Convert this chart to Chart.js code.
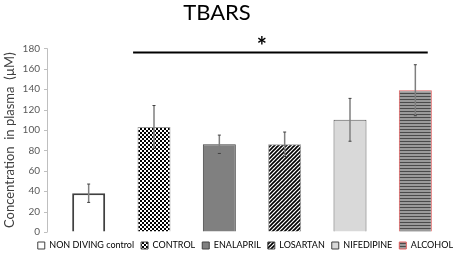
<!DOCTYPE html>
<html>
<head>
<meta charset="utf-8">
<script src="https://cdn.jsdelivr.net/npm/chart.js@4/dist/chart.umd.min.js"></script>
<style>
    html, body { margin: 0; padding: 0; background: #fff; }
    #wrap { width: 454px; height: 254px; }
</style>
</head>
<body>
<div id="wrap"><canvas id="barChart" width="454" height="254"></canvas></div>
<script>
// values
var groups = ['NON DIVING control', 'CONTROL', 'ENALAPRIL', 'LOSARTAN', 'NIFEDIPINE', 'ALCOHOL'];
var means = [38, 103, 86, 86, 110, 139];
var errors = [9, 21, 9, 12, 21, 25];
var yTicks = [0, 20, 40, 60, 80, 100, 120, 140, 160, 180];
var sigFrom = 0.68, sigTo = 5.19, sigValue = 176, sigMarkAt = 2.65;

function makeTile(w, h, draw) {
    var c = document.createElement('canvas');
    c.width = w;
    c.height = h;
    var g = c.getContext('2d');
    draw(g);
    return document.getElementById('barChart').getContext('2d').createPattern(c, 'repeat');
}

var checker = makeTile(4, 4, function (g) {
    g.fillStyle = '#fff';
    g.fillRect(0, 0, 4, 4);
    g.fillStyle = '#000';
    g.fillRect(0, 0, 2, 2);
    g.fillRect(2, 2, 2, 2);
});

var diagonal = makeTile(4, 4, function (g) {
    g.fillStyle = '#fff';
    g.fillRect(0, 0, 4, 4);
    g.strokeStyle = '#000';
    g.lineWidth = 1.6;
    g.beginPath();
    g.moveTo(-1, 5); g.lineTo(5, -1);
    g.moveTo(-1, 1); g.lineTo(1, -1);
    g.moveTo(3, 5); g.lineTo(5, 3);
    g.stroke();
});

var hlines = makeTile(2, 3, function (g) {
    g.fillStyle = '#9a9a9a';
    g.fillRect(0, 0, 2, 3);
    g.fillStyle = '#4a4a4a';
    g.fillRect(0, 0, 2, 1);
});

var fills = ['#ffffff', checker, '#808080', diagonal, '#d9d9d9', hlines];
var borders = ['#404040', '#9a9a9a', '#404040', '#9a9a9a', '#595959', '#e06060'];
var borderWidths = [2, 1, 1, 1, 1, 1];

var extras = {
    id: 'extras',
    afterLayout: function (chart) {
        // legend sits a little to the right and lower, title a little to the left
        var dx = 460 - chart.legend.right;
        chart.legend.left += dx;
        chart.legend.right += dx;
        chart.legend.top += 2;
        chart.legend.bottom += 2;
        chart.titleBlock.left -= 7;
        chart.titleBlock.right -= 7;
    },
    afterDatasetsDraw: function (chart) {
        var ctx = chart.ctx;
        var x = chart.scales.x;
        var y = chart.scales.y;
        var left = chart.chartArea.left - 9;

        ctx.save();
        // y axis line with tick marks
        ctx.strokeStyle = '#bfbfbf';
        ctx.lineWidth = 1;
        ctx.beginPath();
        ctx.moveTo(left + 0.5, y.getPixelForValue(180));
        ctx.lineTo(left + 0.5, y.getPixelForValue(0));
        yTicks.forEach(function (t) {
            var py = Math.round(y.getPixelForValue(t)) + 0.5;
            ctx.moveTo(left - 3, py);
            ctx.lineTo(left + 0.5, py);
        });
        ctx.stroke();

        // error bars
        means.forEach(function (m, i) {
            var px = x.getPixelForValue(i);
            var top = y.getPixelForValue(m + errors[i]);
            var bot = y.getPixelForValue(m - errors[i]);
            ctx.strokeStyle = '#7f7f7f';
            ctx.lineWidth = 1.5;
            ctx.beginPath();
            ctx.moveTo(px, top);
            ctx.lineTo(px, bot);
            ctx.stroke();
            ctx.strokeStyle = '#404040';
            ctx.lineWidth = 1;
            ctx.beginPath();
            ctx.moveTo(px - 1.5, top);
            ctx.lineTo(px + 1.5, top);
            ctx.moveTo(px - 1.5, bot);
            ctx.lineTo(px + 1.5, bot);
            ctx.stroke();
        });

        // significance line
        var sy = y.getPixelForValue(sigValue);
        ctx.strokeStyle = '#000';
        ctx.lineWidth = 2;
        ctx.beginPath();
        ctx.moveTo(x.getPixelForValue(sigFrom), sy);
        ctx.lineTo(x.getPixelForValue(sigTo), sy);
        ctx.stroke();
        ctx.fillStyle = '#000';
        ctx.font = 'bold 24px Lato';
        ctx.textAlign = 'center';
        ctx.textBaseline = 'middle';
        ctx.fillText('*', x.getPixelForValue(sigMarkAt), sy - 5);
        ctx.restore();
    }
};

Chart.defaults.font.family = 'Lato';

new Chart(document.getElementById('barChart'), {
    type: 'bar',
    data: {
        labels: groups,
        datasets: [{
            data: means,
            backgroundColor: fills,
            borderColor: borders,
            borderWidth: borderWidths,
            barPercentage: 0.505,
            categoryPercentage: 1
        }]
    },
    options: {
        responsive: false,
        animation: false,
        layout: { padding: { left: 0, right: 6, top: 0, bottom: -4.5 } },
        scales: {
            x: { display: false },
            y: {
                min: 0,
                max: 180,
                afterBuildTicks: function (axis) {
                    axis.ticks = yTicks.map(function (v) { return { value: v }; });
                },
                afterFit: function (axis) { axis.width = 56; },
                grid: { drawOnChartArea: false, drawTicks: false },
                border: { display: false },
                ticks: { color: '#595959', font: { size: 10 }, padding: 16 },
                title: {
                    display: true,
                    text: 'Concentration  in plasma  (\u00b5M)',
                    color: '#404040',
                    font: { size: 13 },
                    padding: { top: 2, bottom: 0 }
                }
            }
        },
        plugins: {
            title: {
                display: true,
                text: 'TBARS',
                color: '#000',
                font: { size: 22, weight: 'normal' },
                padding: { top: 0, bottom: 22 }
            },
            legend: {
                position: 'bottom',
                align: 'end',
                onClick: null,
                labels: {
                    boxWidth: 7,
                    boxHeight: 7,
                    padding: 7,
                    color: '#404040',
                    font: { size: 9 },
                    generateLabels: function () {
                        return groups.map(function (g, i) {
                            return {
                                text: g,
                                fillStyle: fills[i],
                                strokeStyle: i === 5 ? '#e06060' : '#404040',
                                lineWidth: 1,
                                hidden: false,
                                index: i
                            };
                        });
                    }
                }
            },
            tooltip: { enabled: false }
        }
    },
    plugins: [extras]
});
</script>
</body>
</html>
